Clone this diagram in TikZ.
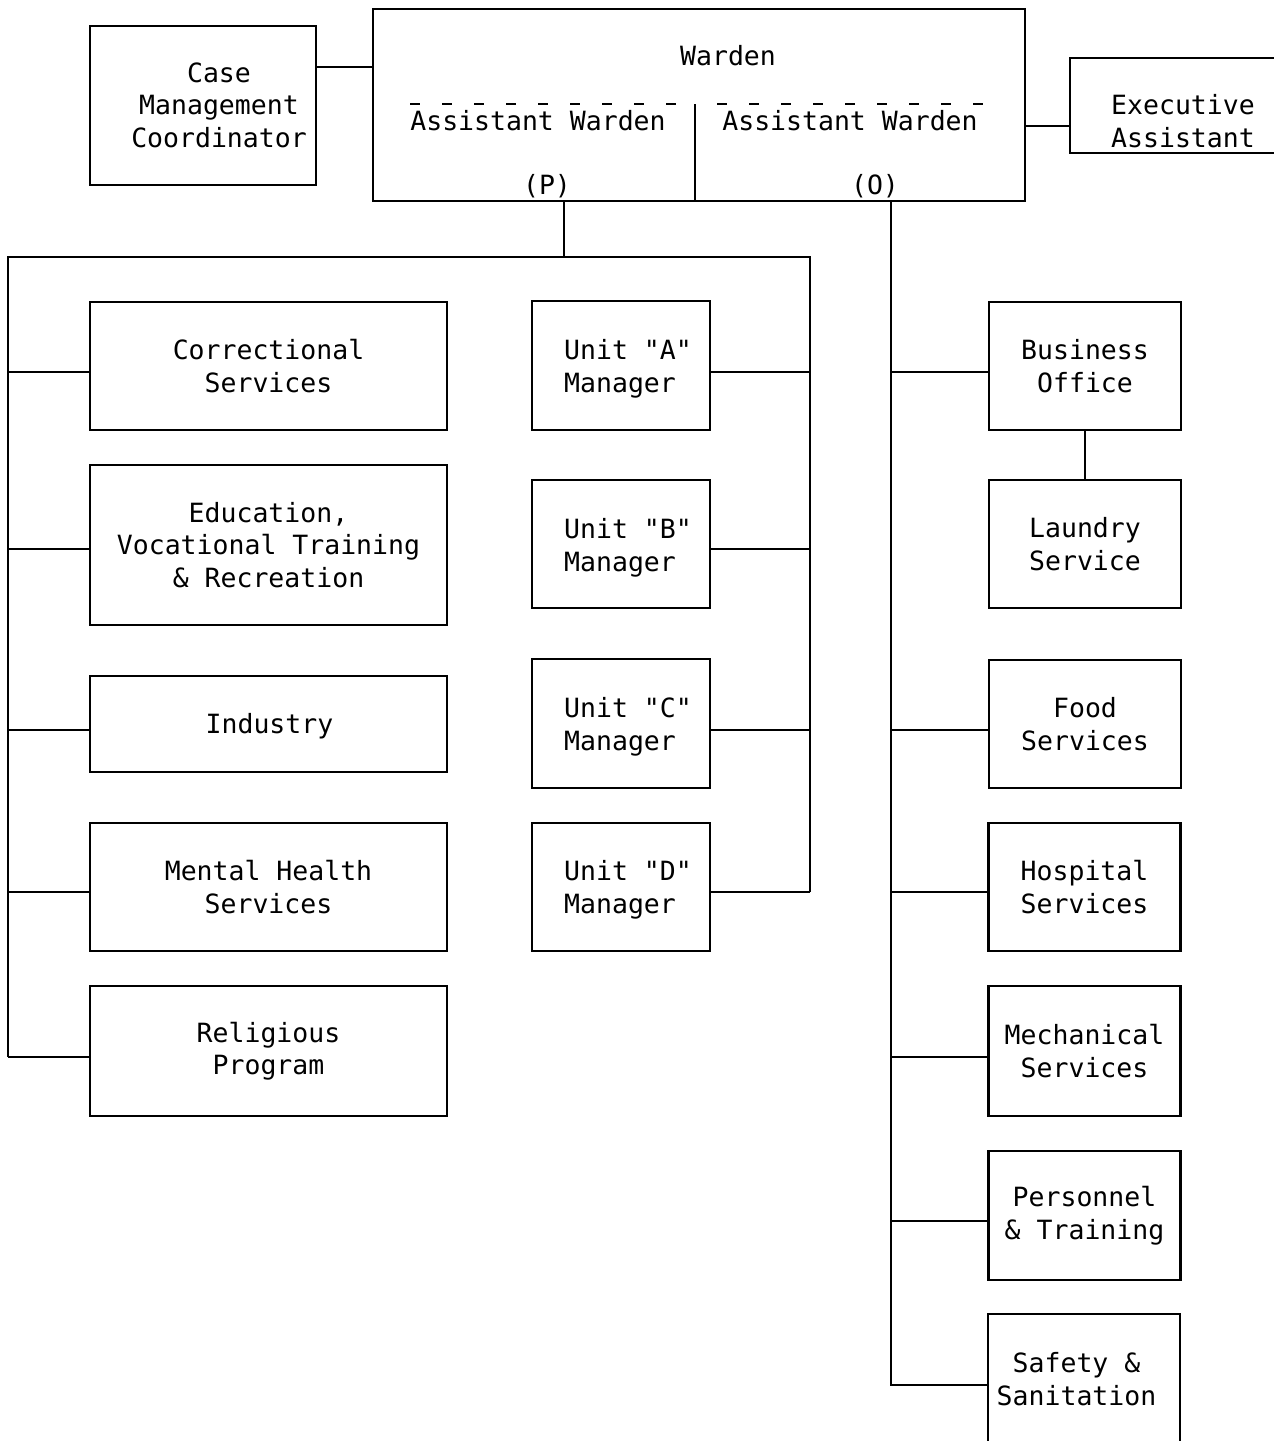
\documentclass[tikz,border=0pt]{standalone}
\usepackage{fontspec}
\newfontfamily\orgfont{DejaVu Sans Mono}[Ligatures=NoCommon]
\begin{document}
\begin{tikzpicture}[x=1pt,y=-1pt,
  line width=2.2pt,
  box/.style 2 args={draw, line width=2.2pt, minimum width=#1pt, minimum height=#2pt,
    inner sep=0pt, align=center, font=\orgfont\fontsize{26.5}{32.5}\selectfont},
  lbl/.style={inner sep=0pt, align=center, font=\orgfont\fontsize{26.5}{32.5}\selectfont},
  ulbl/.style={lbl, align=left},
  overbar/.style={line width=1.6pt, dash pattern=on 10pt off 22pt}]
\clip (0,0) rectangle (1274,1441);
\fill[white] (0,0) rectangle (1274,1441);

% top row
\node[box={652}{192}] (warden) at (699,105) {};
\node[box={226}{159}] (cmc) at (203,105.5) {};
\node[box={240}{95}] (ea) at (1190,105.5) {};
\node[lbl] (cmctxt) at (219,105) {Case\\Management\\Coordinator};
\node[lbl] (eatxt) at (1183,121) {Executive\\Assistant};
\node[lbl] (wtxt) at (728,56) {Warden};
\node[lbl] (awp) at (538,121) {Assistant Warden};
\node[lbl] (awo) at (850,121) {Assistant Warden};
\node[lbl] (ptxt) at (547,186) {(P)};
\node[lbl] (otxt) at (875,186) {(O)};
\draw[overbar] (410,104) -- (685,104);
\draw[overbar] (717,104) -- (985,104);
\draw (695,104) -- (warden.south -| 695,0);
\draw (cmc.east |- 0,67) -- (warden.west |- 0,67);
\draw (warden.east |- 0,126) -- (ea.west |- 0,126);

% program side: left column
\node[box={357}{128}] (cs)  at (268.5,366) {Correctional\\Services};
\node[box={357}{160}] (ed)  at (268.5,545) {Education,\\Vocational Training\\\& Recreation};
\node[box={357}{96}]  (ind) at (268.5,724) {};
\node[lbl] (indtxt) at (269.5,726) {Industry};
\node[box={357}{128}] (mh)  at (268.5,887) {Mental Health\\Services};
\node[box={357}{130}] (rel) at (268.5,1051) {Religious\\Program};

% program side: unit managers
\node[box={178}{129}] (ua) at (621,365.5) {};
\node[box={178}{128}] (ub) at (621,544) {};
\node[box={178}{129}] (uc) at (621,723.5) {};
\node[box={178}{128}] (ud) at (621,887) {};
\node[ulbl] at (628,369) {Unit "A"\\Manager};
\node[ulbl] at (628,548) {Unit "B"\\Manager};
\node[ulbl] at (628,727) {Unit "C"\\Manager};
\node[ulbl] at (628,890) {Unit "D"\\Manager};

% program side connectors
\coordinate (pj) at (564,257);
\coordinate (lt) at (8,257);
\coordinate (rt) at (810,257);
\draw (warden.south -| pj) -- (pj);
\draw (lt |- 0,1057) -- (lt) -- (rt) -- (rt |- 0,892);
\draw (lt |- 0,372)  -- (cs.west  |- 0,372);
\draw (lt |- 0,549)  -- (ed.west  |- 0,549);
\draw (lt |- 0,730)  -- (ind.west |- 0,730);
\draw (lt |- 0,892)  -- (mh.west  |- 0,892);
\draw (lt |- 0,1057) -- (rel.west |- 0,1057);
\draw (rt |- 0,372) -- (ua.east |- 0,372);
\draw (rt |- 0,549) -- (ub.east |- 0,549);
\draw (rt |- 0,730) -- (uc.east |- 0,730);
\draw (rt |- 0,892) -- (ud.east |- 0,892);

% operations side
\node[box={192}{128}] (bo)  at (1085,366) {Business\\Office};
\node[box={192}{128}] (lau) at (1085,544) {Laundry\\Service};
\node[box={192}{128}] (fs)  at (1085,724) {Food\\Services};
\node[box={192}{128}] (hs)  at (1084.5,887) {Hospital\\Services};
\node[box={192}{130}] (ms)  at (1084.5,1051) {Mechanical\\Services};
\node[box={192}{129}] (pt)  at (1084.5,1215.5) {Personnel\\\& Training};
\node[box={192}{130}] (ss)  at (1084,1379) {};
\node[lbl] (sstxt) at (1076.5,1379) {Safety \&\\Sanitation};

\coordinate (ot) at (891,201);
\draw (warden.south -| ot) -- (ot |- 0,1385) -- (ss.west |- 0,1385);
\draw (ot |- 0,372)  -- (bo.west |- 0,372);
\draw (ot |- 0,730)  -- (fs.west |- 0,730);
\draw (ot |- 0,892)  -- (hs.west |- 0,892);
\draw (ot |- 0,1057) -- (ms.west |- 0,1057);
\draw (ot |- 0,1221) -- (pt.west |- 0,1221);
\draw (bo.south) -- (lau.north);
\end{tikzpicture}
\end{document}
